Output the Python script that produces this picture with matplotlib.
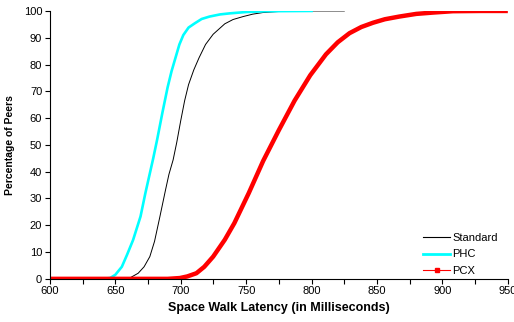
import matplotlib.pyplot as plt
from matplotlib.ticker import MultipleLocator
from matplotlib.lines import Line2D

plt.rcParams['font.family'] = ['Liberation Sans', 'DejaVu Sans']

# latency (ms) vs cumulative percentage of peers
std_x = [600, 655, 661, 667.5, 672, 676.4, 680, 684, 688.4, 691, 694.2, 697, 700, 703, 706, 710,
         714, 719, 724.8, 733.7, 740, 747.7, 755, 762.7, 775, 790, 825]
std_y = [0, 0, 0.3, 2.1, 4.5, 8.3, 14, 23, 33.2, 39, 44.4, 51, 59, 66.5, 72.5, 78,
         82.5, 87.5, 91.3, 95.2, 96.8, 97.9, 98.8, 99.4, 99.8, 100, 100]

phc_x = [600, 640, 646, 650, 655, 659, 663.6, 669.3, 673, 679, 682, 686, 690, 693, 696, 699,
         702, 706, 710.8, 716, 722, 730, 737.5, 750, 765, 800]
phc_y = [0, 0, 0.3, 1.5, 4.5, 9, 14.5, 23.3, 32, 45, 52, 62, 71.5, 77.5, 82.5, 87.5,
         91, 93.8, 95.4, 97, 97.9, 98.7, 99.1, 99.6, 99.9, 100]

pcx_x = [600, 690, 699.3, 705, 712, 718, 724.8, 733.7, 741, 752, 763, 775, 787, 799, 811,
         820, 829, 838, 847, 856, 867, 880, 893, 908, 930, 950]
pcx_y = [0, 0, 0.3, 0.9, 2.1, 4.5, 8.3, 14.6, 20.8, 32, 44, 55.5, 66.5, 76, 83.8,
         88.3, 91.7, 94, 95.6, 96.9, 97.9, 98.9, 99.4, 99.9, 100, 100]

fig = plt.figure(figsize=(5.14, 3.22), dpi=100)
ax = fig.add_axes([0.097, 0.134, 0.891, 0.832])

ax.plot(std_x, std_y, color='black', lw=0.7)
ax.plot(phc_x, phc_y, color='#00ffff', lw=1.9)
ax.plot(pcx_x, pcx_y, color='red', lw=3.2, solid_capstyle='butt')

ax.set_xlim(600, 950)
ax.set_ylim(0, 100)
ax.xaxis.set_major_locator(MultipleLocator(50))
ax.xaxis.set_minor_locator(MultipleLocator(25))
ax.yaxis.set_major_locator(MultipleLocator(10))
ax.tick_params(which='both', direction='out', length=3.5, width=0.8, labelsize=8, pad=2)
for s in ['top', 'right']:
    ax.spines[s].set_visible(False)
ax.spines['left'].set_linewidth(0.8)
ax.spines['bottom'].set_linewidth(0.8)

ax.set_xlabel('Space Walk Latency (in Milliseconds)', fontsize=9, fontweight='bold', labelpad=4)
ax.set_ylabel('Percentage of Peers', fontsize=7.5, fontweight='bold', labelpad=6)

handles = [Line2D([], [], color='black', lw=0.8),
           Line2D([], [], color='#00ffff', lw=2),
           Line2D([], [], color='red', lw=0.8, marker='s', markersize=2.5)]
ax.legend(handles, ['Standard', 'PHC', 'PCX'], loc='lower right', frameon=False,
          fontsize=8, handlelength=2.4, handletextpad=0.2, labelspacing=0.55,
          bbox_to_anchor=(1.0, -0.025))

fig.savefig('out.png', dpi=100)
